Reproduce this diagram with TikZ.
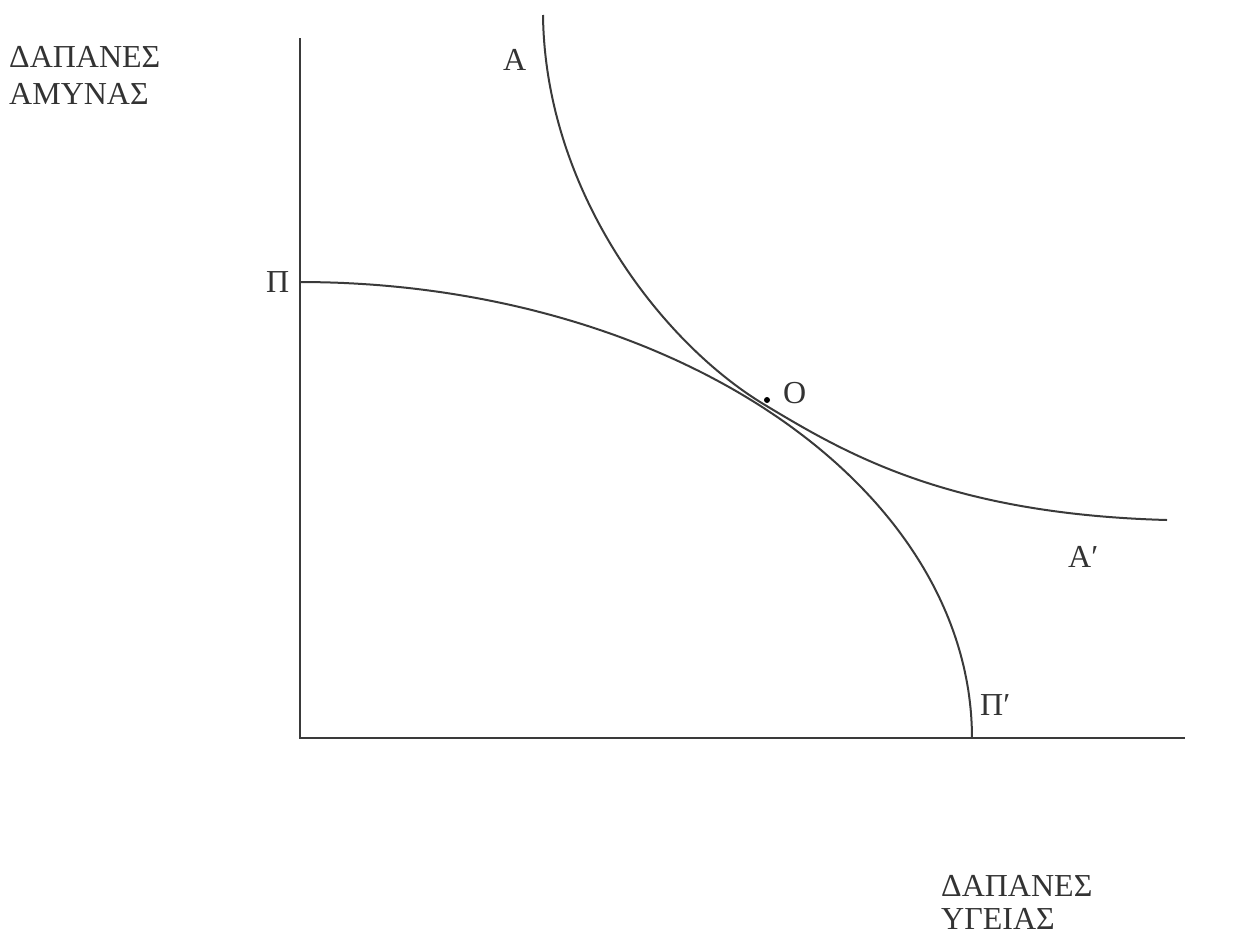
\documentclass[tikz,border=0pt]{standalone}
\usepackage{fontspec}
\setmainfont{Liberation Serif}
\definecolor{ink}{HTML}{3A3A3A}
\definecolor{txt}{HTML}{333333}
\begin{document}
\begin{tikzpicture}[x=1pt,y=-1pt,
  axis/.style={draw=ink,line width=2.6pt},
  curve/.style={draw=ink,line width=2pt},
  lbl/.style={text=txt,font=\fontsize{32}{38}\selectfont,inner sep=0pt,anchor=base west}]
\useasboundingbox (0,0) rectangle (1234,935);
% axes
\coordinate (ytop) at (300,38);
\coordinate (orig) at (300,738);
\coordinate (xend) at (1185,738);
\draw[axis] (ytop) -- (orig) -- (xend);
% production possibility curve
\draw[curve] plot[domain=0:90,samples=120] ({300+672*cos(\x)},{738-456*sin(\x)});
% indifference curve
\coordinate (Atop) at (543,15);
\coordinate (T) at (765,405);
\coordinate (Aend) at (1167,520);
\draw[curve] (Atop) .. controls (545,190) and (660,342) .. (T)
                     .. controls (845,453) and (947,514) .. (Aend);
% tangency point
\node[circle,fill=black,inner sep=0pt,minimum size=6pt] (O) at (767,400) {};
% labels
\node[lbl] (ylab1) at (9,67) {ΔΑΠΑΝΕΣ};
\node[lbl] (ylab2) at (9,104) {ΑΜΥΝΑΣ};
\node[lbl] (xlab1) at (941,896) {ΔΑΠΑΝΕΣ};
\node[lbl] (xlab2) at (941,929) {ΥΓΕΙΑΣ};
\node[lbl] (A) at (503,70) {Α};
\node[lbl] (Ap) at (1068,567) {Α′};
\node[lbl] (P) at (266,292) {Π};
\node[lbl] (Pp) at (980,715) {Π′};
\node[lbl] (Olab) at (783,403) {O};
\end{tikzpicture}
\end{document}
